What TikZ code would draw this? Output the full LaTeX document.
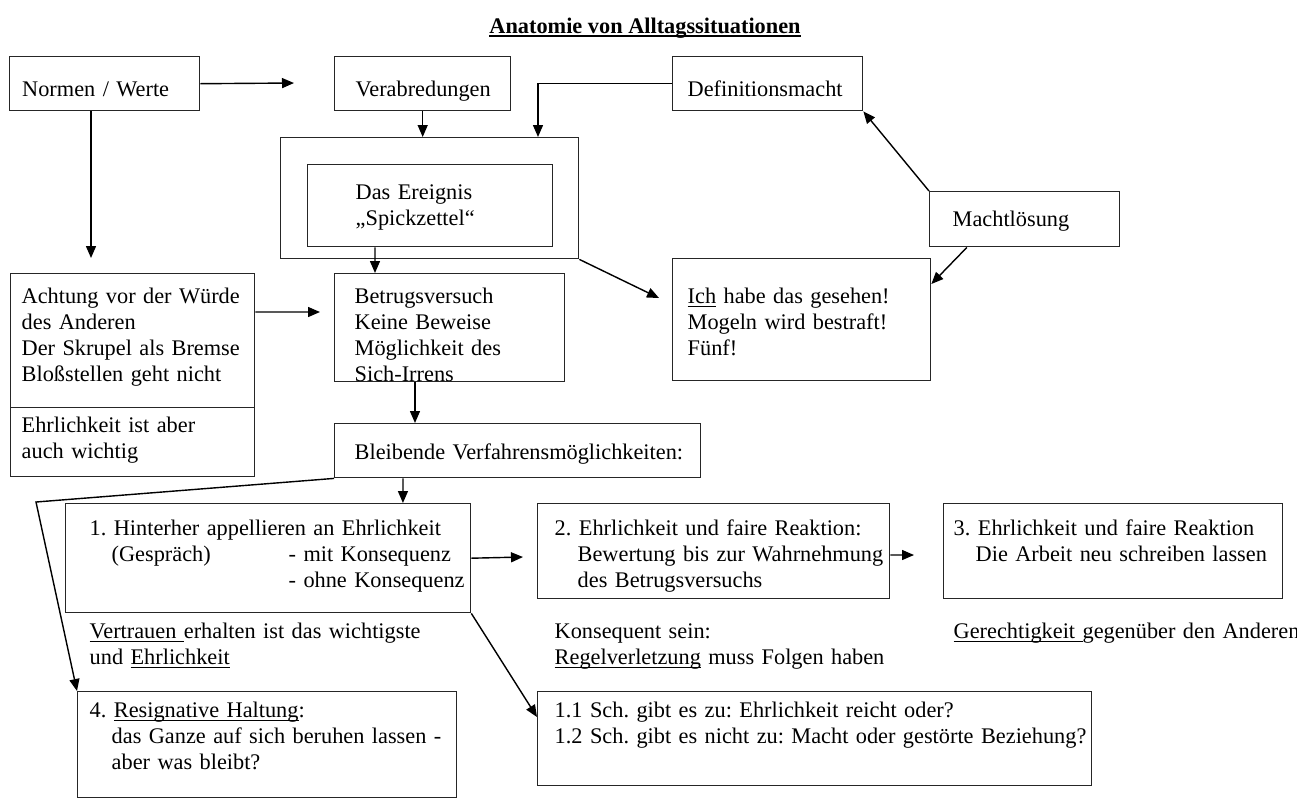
\documentclass[tikz,border=0pt]{standalone}
\usepackage{fontspec}
\setmainfont{Liberation Serif}
\usepackage{tkz-euclide}
\usepackage{tikz}
\usetikzlibrary{arrows.meta}
\frenchspacing
\newcommand{\unterstrich}[2][0.5pt]{\leavevmode\setbox0=\hbox{#2}\rlap{\rule[-2pt]{\wd0}{#1}}\box0\relax}
\tikzset{
  kasten/.style={draw=black!85, line width=0.8pt, anchor=north west, inner sep=0pt, align=left},
  einzug/.style={execute at begin node={\leftskip=#1}},
  notiz/.style={anchor=base west, inner sep=0pt, align=left, text width=9cm},
}
\begin{document}
\begin{tikzpicture}[x=0.02cm, y=-0.02cm, font=\fontsize{12.7}{14.8}\selectfont,
    >={Triangle[length=2.4mm,width=2mm]}, line width=0.8pt]
    \useasboundingbox (0,0) rectangle (1297,799);
    \tkzDefPoints{294/83/A,91/258/B,538/137/C,659/298/D,320/312/E,36/502/F,523/557/G,914/555/H}
    \node[anchor=base, inner sep=0pt] (titel) at (645,33) {\textbf{\unterstrich[0.8pt]{Anatomie von Alltagssituationen}}};
    \node[kasten, einzug=0.25cm, text width=3.8cm, text height=0.8cm, text depth=0.28cm] (normen) at (9,56) {Normen / Werte};
    \node[kasten, einzug=0.42cm, text width=3.52cm, text height=0.8cm, text depth=0.28cm] (verab) at (334,56) {Verabredungen};
    \node[kasten, einzug=0.3cm, text width=3.8cm, text height=0.8cm, text depth=0.28cm] (defi) at (672,56) {Definitionsmacht};
    \node[draw=black!85, anchor=north west, inner sep=0pt, minimum width=5.96cm, minimum height=2.42cm] (rahmen) at (280,137) {};
    \node[kasten, einzug=0.96cm, text width=4.9cm, text height=0.7cm, text depth=0.94cm] (ereignis) at (307,164) {Das Ereignis\\„Spickzettel“};
    \node[kasten, einzug=0.46cm, text width=3.8cm, text height=0.7cm, text depth=0.4cm] (macht) at (929,191) {Machtlösung};
    \node[kasten, einzug=0.3cm, text width=5.16cm, text height=0.9cm, text depth=1.54cm] (ich) at (672,258) {\unterstrich{Ich} habe das gesehen!\\Mogeln wird bestraft!\\Fünf!};
    \node[kasten, einzug=0.22cm, text width=4.88cm, text height=0.6cm, text depth=2.08cm] (achtung) at (10,273) {Achtung vor der Würde\\des Anderen\\Der Skrupel als Bremse\\Bloßstellen geht nicht};
    \node[kasten, einzug=0.22cm, text width=4.88cm, text height=0.5cm, text depth=0.88cm] (ehrlich) at (10,407) {Ehrlichkeit ist aber\\auch wichtig};
    \node[kasten, einzug=0.4cm, text width=4.6cm, text height=0.6cm, text depth=1.56cm] (betrug) at (334,273) {Betrugsversuch\\Keine Beweise\\Möglichkeit des\\Sich-Irrens};
    \node[kasten, einzug=0.4cm, text width=7.32cm, text height=0.72cm, text depth=0.36cm] (bleibende) at (334,423) {Bleibende Verfahrensmöglichkeiten:};
    \node[kasten, einzug=0.48cm, text width=8.1cm, text height=0.64cm, text depth=1.54cm] (eins) at (65,503) {1. Hinterher appellieren an Ehrlichkeit\\\hspace*{0.44cm}\makebox[3.54cm][l]{(Gespräch)}- mit Konsequenz\\\hspace*{3.98cm}- ohne Konsequenz};
    \node[kasten, einzug=0.34cm, text width=7.04cm, text height=0.64cm, text depth=1.26cm] (zwei) at (537,503) {2. Ehrlichkeit und faire Reaktion:\\\hspace*{0.46cm}Bewertung bis zur Wahrnehmung\\\hspace*{0.46cm}des Betrugsversuchs};
    \node[kasten, einzug=0.2cm, text width=6.78cm, text height=0.64cm, text depth=1.26cm] (drei) at (943,503) {3. Ehrlichkeit und faire Reaktion\\\hspace*{0.44cm}Die Arbeit neu schreiben lassen};
    \node[kasten, einzug=0.24cm, text width=7.58cm, text height=0.52cm, text depth=1.6cm] (vier) at (77,691) {4. \unterstrich{Resignative Haltung}:\\\hspace*{0.44cm}das Ganze auf sich beruhen lassen -\\\hspace*{0.44cm}aber was bleibt?};
    \node[kasten, einzug=0.34cm, text width=11.08cm, text height=0.52cm, text depth=1.36cm] (einseins) at (537,691) {1.1 Sch. gibt es zu: Ehrlichkeit reicht oder?\\1.2 Sch. gibt es nicht zu: Macht oder gestörte Beziehung?};
    \node[notiz] (vertrauen) at (89,638) {\unterstrich{Vertrauen }erhalten ist das wichtigste\\und \unterstrich{Ehrlichkeit}};
    \node[notiz] (konsequent) at (554,638) {Konsequent sein:\\\unterstrich{Regelverletzung} muss Folgen haben};
    \node[notiz] (gerecht) at (953,638) {\unterstrich{Gerechtigkeit }gegenüber den Anderen};
    \draw[->] (normen.east) -- (A);
    \draw[->] (normen.south -| B) -- (B);
    \draw[->] (verab.south) -- (verab.south |- rahmen.north);
    \draw[->] (defi.west) -| (C);
    \draw[->] (macht.north west) -- (defi.south east);
    \draw[->] (macht.206) -- ([yshift=-0.52cm]ich.north east);
    \draw[->] (rahmen.south east) -- (D);
    \draw[->] ([xshift=1.36cm]ereignis.south west) -- ([xshift=0.82cm]betrug.north west);
    \draw[->] ([yshift=-0.78cm]achtung.north east) -- (E);
    \draw[->] ([xshift=1.62cm]betrug.south west) -- ([xshift=1.62cm]bleibende.north west);
    \draw[->] ([xshift=1.38cm]bleibende.south west) -- ([xshift=6.76cm]eins.north west);
    \draw[->] (bleibende.south west) -- (F) -- (vier.north west);
    \draw[->] (eins.east) -- (G);
    \draw[->] ([yshift=-1.04cm]zwei.north east) -- (H);
    \draw[->] (eins.south east) -- ([yshift=-0.52cm]einseins.north west);
\end{tikzpicture}
\end{document}
